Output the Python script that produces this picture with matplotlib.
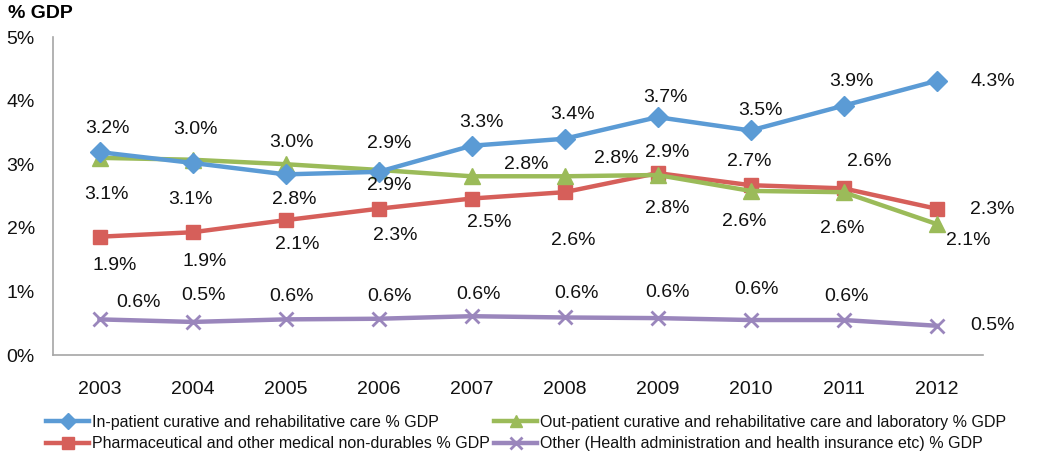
import matplotlib
matplotlib.use("Agg")
import matplotlib.pyplot as plt
from matplotlib.ticker import FuncFormatter

years = ["2003", "2004", "2005", "2006", "2007", "2008", "2009", "2010", "2011", "2012"]
inpatient = [3.19, 3.02, 2.84, 2.88, 3.29, 3.40, 3.74, 3.53, 3.92, 4.31]
outpatient = [3.10, 3.07, 3.00, 2.91, 2.81, 2.81, 2.83, 2.58, 2.56, 2.06]
pharma = [1.86, 1.93, 2.12, 2.30, 2.46, 2.56, 2.86, 2.67, 2.62, 2.30]
other = [0.56, 0.52, 0.56, 0.57, 0.61, 0.59, 0.58, 0.55, 0.55, 0.46]

names = [
    "In-patient curative and rehabilitative care % GDP",
    "Out-patient curative and rehabilitative care and laboratory % GDP",
    "Pharmaceutical and other medical non-durables % GDP",
    "Other (Health administration and health insurance etc) % GDP",
]
yticks = [0, 1, 2, 3, 4, 5]

# label offsets in pixels (layout only)
off_in = [(8, 24), (3, 33), (9, -25), (11, 28), (10, 23), (8, 24), (8, 20), (10, 20), (8, 24), (56, -1)]
off_out = [(7, -37), (-2, -40), (6, 22), (11, -16), (55, 12), (52, 18), (10, -33), (-6, -31), (-1, -36), (32, -17)]
off_ph = [(15, -29), (12, -29), (12, -24), (17, -27), (18, -24), (9, -48), (10, 21), (-1, 24), (26, 27), (56, -1)]
off_ot = [(39, 17), (11, 26), (6, 23), (11, 22), (7, 22), (12, 24), (10, 26), (6, 31), (3, 24), (56, 0)]

plt.rcParams['font.family'] = ['Liberation Sans', 'DejaVu Sans']

fig = plt.figure(figsize=(10.43, 4.59), dpi=100)
ax = fig.add_axes([53 / 1043, 1 - 355 / 459, 930 / 1043, 318 / 459])

x = list(range(len(years)))
series = [
    (inpatient, "#5B9BD5", "D", 10, off_in, 4, 0),
    (outpatient, "#9BBB59", "^", 11, off_out, 3, 1),
    (pharma, "#D65F5A", "s", 10, off_ph, 2, 2),
    (other, "#9A86BC", "x", 10, off_ot, 1, 3),
]
handles = {}
for vals, col, mk, ms, offs, z, idx in series:
    kw = dict(markeredgewidth=2) if mk == "x" else dict(markeredgecolor=col)
    h, = ax.plot(x, vals, color=col, lw=3.2, marker=mk, markersize=ms,
                 markerfacecolor=col, zorder=z, label=names[idx], **kw)
    handles[idx] = h
    for xi, v, o in zip(x, vals, offs):
        ax.annotate(f"{v:.1f}%", (xi, v), xytext=o, textcoords="offset pixels",
                    ha="center", va="center", fontsize=14, color="#111111", zorder=6)

ax.set_xlim(-0.5, len(years) - 0.5)
ax.set_ylim(0, 5)
ax.set_yticks(yticks)
ax.yaxis.set_major_formatter(FuncFormatter(lambda v, p: f"{v:.0f}%"))
ax.set_xticks(x)
ax.set_xticklabels(years)
ax.tick_params(axis="both", length=0, labelsize=14, colors="#111111")
ax.tick_params(axis="y", pad=13)
ax.tick_params(axis="x", pad=19)
for s in ["top", "right"]:
    ax.spines[s].set_visible(False)
for s in ["left", "bottom"]:
    ax.spines[s].set_color("#A6A6A6")
    ax.spines[s].set_linewidth(1.2)

fig.text(8 / 1043, 1 - 14 / 459, "% GDP", fontsize=14, fontweight="bold", va="center", ha="left")

order = [0, 2, 1, 3]
leg = fig.legend([handles[i] for i in order], [names[i] for i in order], ncol=2,
                 loc="center left", bbox_to_anchor=(38 / 1043, 1 - 433 / 459),
                 frameon=False, fontsize=11.5, handlelength=2.7, handletextpad=0.15,
                 columnspacing=0.3, labelspacing=0.4, borderpad=0, markerscale=0.8)
for t in leg.get_texts():
    t.set_color("#111111")

fig.savefig("out.png", dpi=100)
